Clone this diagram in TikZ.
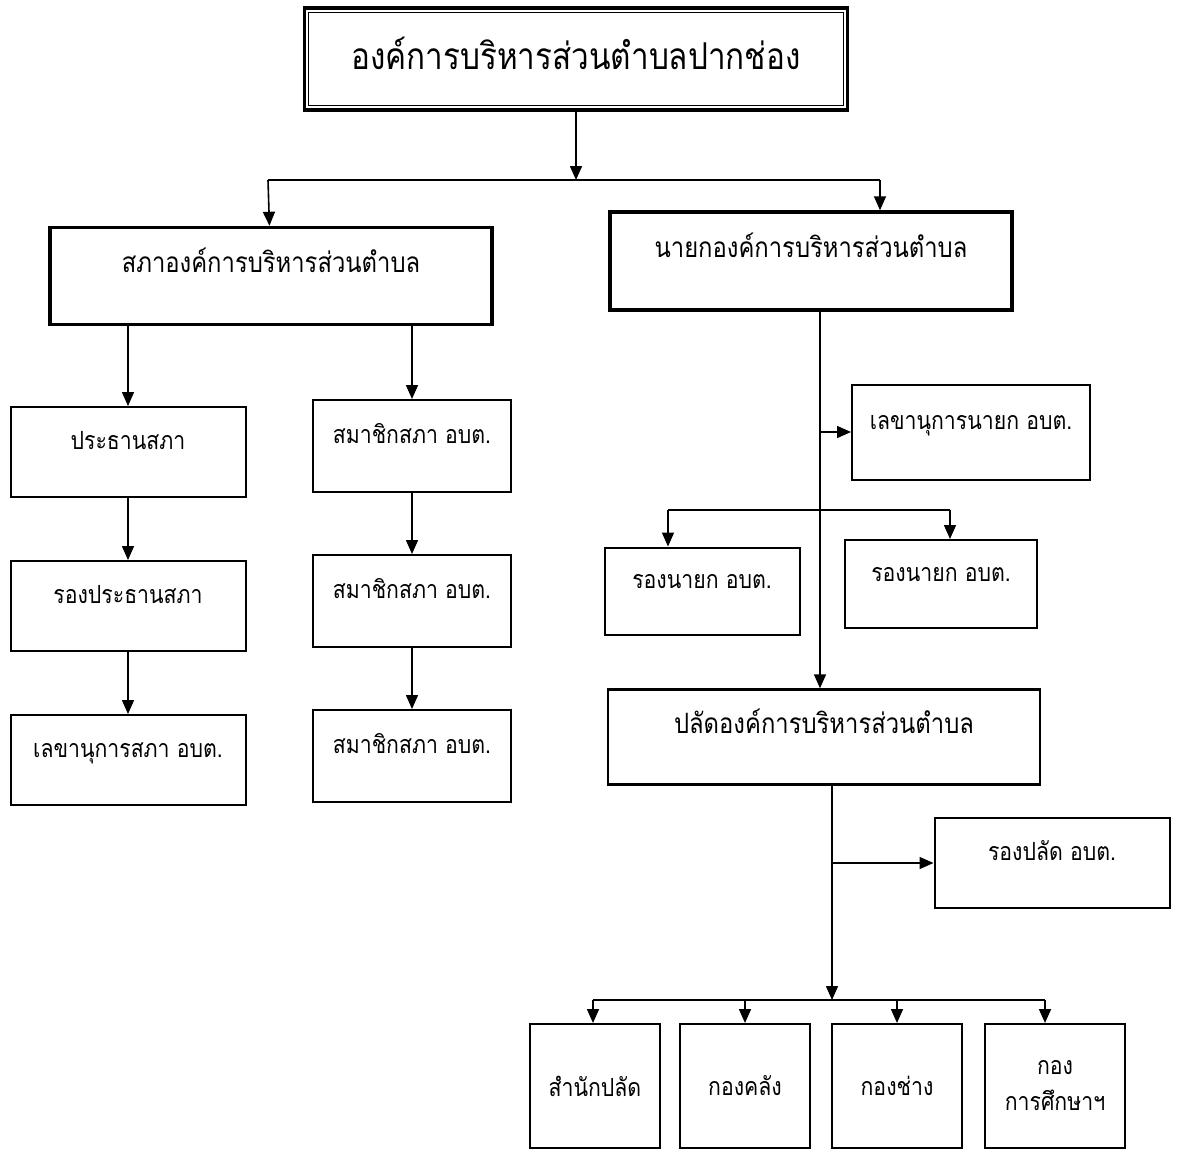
\documentclass[tikz,border=0pt]{standalone}
\usepackage{fontspec}
\newfontfamily\thaifont[Script=Thai,FakeStretch=0.85]{Loma}
\usetikzlibrary{arrows.meta,positioning}

\begin{document}
\begin{tikzpicture}[->,>={Triangle[length=7pt,width=6pt]},x=0.5pt,y=-0.5pt,
  line width=0.8pt,
  head node/.style={rectangle,draw,line width=1.7pt,font=\thaifont\fontsize{14}{16}\selectfont,
    text height=10pt,text depth=14pt},
  unit node/.style={rectangle,draw,line width=1pt,font=\thaifont\fontsize{12.5}{14}\selectfont,
    text height=9pt,text depth=12pt},
  dept node/.style={rectangle,draw,line width=1pt,font=\thaifont\fontsize{12.5}{18}\selectfont,
    align=center,minimum width=65pt,minimum height=62pt}]

  \useasboundingbox (0,0) rectangle (1178,1151);

  % top level
  \node[head node,line width=1.8pt,font=\thaifont\fontsize{18.5}{21}\selectfont,
    text height=14pt,text depth=4pt,
    minimum width=271.5pt,minimum height=51pt] (top) at (576,59) {องค์การบริหารส่วนตำบลปากช่อง};
  \draw[-,line width=0.6pt] ([xshift=3pt,yshift=-3pt]top.north west) rectangle ([xshift=-3pt,yshift=3pt]top.south east);

  \node[head node,minimum width=221pt,minimum height=48.5pt] (sapha) at (271,276) {สภาองค์การบริหารส่วนตำบล};
  \node[head node,minimum width=201pt,minimum height=49pt] (naiyok) at (811,261) {นายกองค์การบริหารส่วนตำบล};

  % council side
  \node[unit node,minimum width=117.5pt,minimum height=45pt] (prs) at (128,452) {ประธานสภา};
  \node[unit node,minimum width=117.5pt,minimum height=45pt] (vprs) [below=31pt of prs] {รองประธานสภา};
  \node[unit node,minimum width=117.5pt,minimum height=45pt] (secS) [below=31pt of vprs] {เลขานุการสภา อบต.};
  \node[unit node,minimum width=99pt,minimum height=46pt] (mem1) at (412,446) {สมาชิกสภา อบต.};
  \node[unit node,minimum width=99pt,minimum height=46pt] (mem2) [below=30.5pt of mem1] {สมาชิกสภา อบต.};
  \node[unit node,minimum width=99pt,minimum height=46pt] (mem3) [below=30.5pt of mem2] {สมาชิกสภา อบต.};

  % executive side
  \node[unit node,minimum width=119pt,minimum height=47.5pt] (secN) at (971,432) {เลขานุการนายก อบต.};
  \node[unit node,minimum width=97.5pt,minimum height=43.5pt] (vn1) at (702,591) {รองนายก อบต.};
  \node[unit node,minimum width=96pt,minimum height=44pt] (vn2) at (941,584) {รองนายก อบต.};
  \node[head node,line width=1.2pt,minimum width=216pt,minimum height=47.5pt] (palad) at (824,737) {ปลัดองค์การบริหารส่วนตำบล};
  \node[unit node,minimum width=117.5pt,minimum height=45pt] (vpalad) at (1052,863) {รองปลัด อบต.};

  % divisions
  \node[dept node] (sp) at (595,1086) {สำนักปลัด};
  \node[dept node] (kl) at (745,1086) {กองคลัง};
  \node[dept node] (kc) at (897,1086) {กองช่าง};
  \node[dept node,minimum width=70pt] (ks) at (1055,1086) {กอง\\การศึกษาฯ};

  \coordinate (splitL) at (268,180);
  \coordinate (splitR) at (880,180);
  \coordinate (trunk) at (820,0);
  \coordinate (vnL) at (668,510);
  \coordinate (vnR) at (950,510);
  \coordinate (trunkB) at (832,0);
  \coordinate (busL) at (593,1000);
  \coordinate (busR) at (1045,1000);

  \draw[-] (splitL) -- (splitR);
  \draw[-] (vnL) -- (vnR);
  \draw[-] (busL) -- (busR);

  \path (top) edge (top |- splitL)
  (splitL) edge (sapha)
  (splitR) edge (splitR |- naiyok.north)
  (prs |- sapha.south) edge (prs)
  (mem1 |- sapha.south) edge (mem1)
  (prs) edge (vprs)
  (vprs) edge (secS)
  (mem1) edge (mem2)
  (mem2) edge (mem3)
  (trunk |- naiyok.south) edge (trunk |- palad.north)
  (trunk |- secN) edge (secN)
  (vnL) edge (vnL |- vn1.north)
  (vnR) edge (vnR |- vn2.north)
  (trunkB |- palad.south) edge (trunkB |- busL)
  (trunkB |- vpalad) edge (vpalad)
  (busL) edge (busL |- sp.north)
  (kl |- busL) edge (kl)
  (kc |- busL) edge (kc)
  (busR) edge (busR |- ks.north);

\end{tikzpicture}
\end{document}
